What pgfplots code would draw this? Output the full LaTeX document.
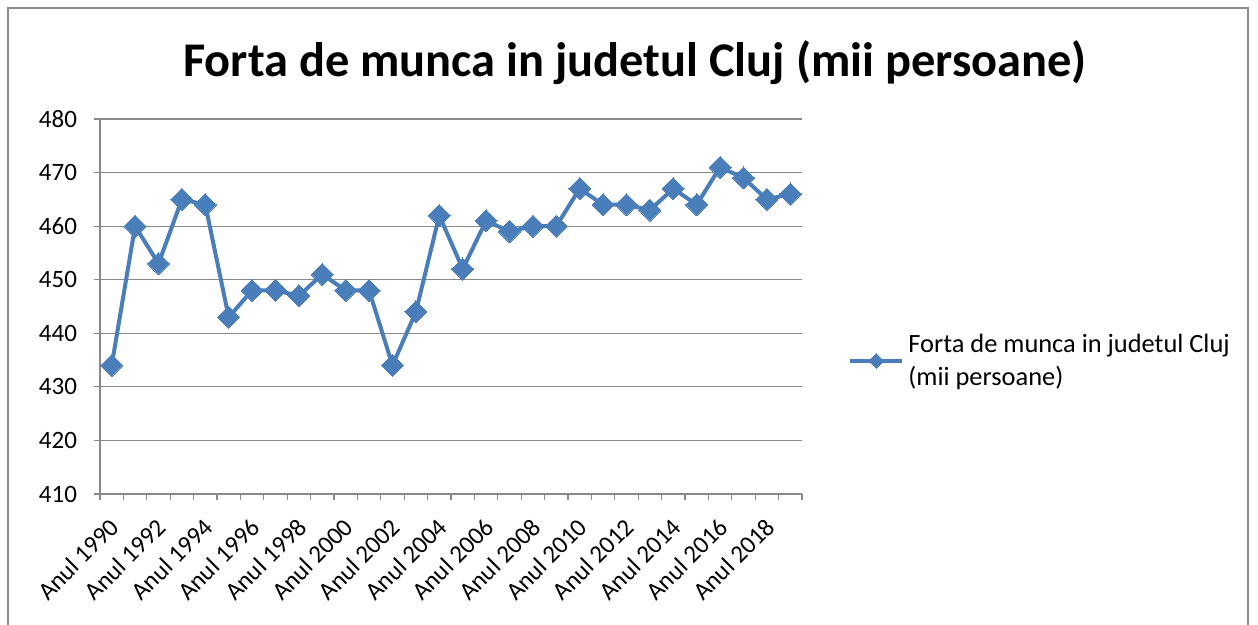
\documentclass[border=0pt]{standalone}
\usepackage{fontspec}
\setmainfont{Carlito}
\usepackage{pgfplots}
\pgfplotsset{compat=1.18}
\definecolor{Cline}{HTML}{4A7EBB}
\definecolor{Cgrid}{HTML}{898989}
\definecolor{Cframe}{HTML}{8C8C8C}

\begin{document}
\begin{tikzpicture}
\useasboundingbox (0,0) rectangle (629pt,312.5pt);
\draw[Cframe, line width=0.8pt] (4pt,-2pt) -- (4pt,308.5pt) -- (624pt,308.5pt) -- (624pt,-2pt);
\node[font=\bfseries\fontsize{24.2}{28}\selectfont] at (317.5pt,281pt) {Forta de munca in judetul Cluj (mii persoane)};
\begin{axis}[
  at={(50pt,65.5pt)}, anchor=south west,
  scale only axis,
  width=351pt, height=187.5pt,
  xmin=-0.5, xmax=29.5,
  ymin=410, ymax=480,
  ytick={410,420,...,480},
  xtick={0,2,...,28},
  xticklabels={Anul 1990,Anul 1992,Anul 1994,Anul 1996,Anul 1998,Anul 2000,Anul 2002,Anul 2004,Anul 2006,Anul 2008,Anul 2010,Anul 2012,Anul 2014,Anul 2016,Anul 2018},
  minor xtick={-0.5,0.5,...,29.5},
  major x tick style={draw=none},
  minor x tick style={Cgrid, line width=0.6pt},
  minor tick length=3pt,
  major tick length=3pt,
  tick align=outside,
  y tick style={Cgrid, line width=0.6pt},
  axis lines*=left,
  axis line style={Cgrid, line width=0.6pt},
  ymajorgrids=true,
  grid style={Cgrid, line width=0.6pt},
  tick label style={font=\fontsize{12.5}{15}\selectfont, /pgf/number format/assume math mode=true},
  xticklabel style={xshift=4pt, yshift=-9pt, rotate=45, anchor=east},
  yticklabel style={xshift=-5pt},
  legend style={at={(1.057,0.355)}, anchor=west, draw=none, fill=none,
    font=\fontsize{13.2}{16.5}\selectfont, cells={align=left}},
  legend cell align=left,
  legend image code/.code={
    \draw[#1, mark repeat=2, mark phase=2, mark size=2.6pt]
      plot coordinates {(0pt,0pt) (13pt,0pt) (26pt,0pt)};},
  clip=false,
]
\addplot[Cline, line width=2pt, mark=square*, mark size=3.9pt,
  mark options={rotate=45, fill=Cline, draw=Cline, line width=0pt}] coordinates {
  (0,434) (1,460) (2,453) (3,465) (4,464) (5,443) (6,448) (7,448) (8,447) (9,451)
  (10,448) (11,448) (12,434) (13,444) (14,462) (15,452) (16,461) (17,459) (18,460) (19,460)
  (20,467) (21,464) (22,464) (23,463) (24,467) (25,464) (26,471) (27,469) (28,465) (29,466)
};
\addlegendentry{Forta de munca in judetul Cluj\\(mii persoane)}
\end{axis}
\end{tikzpicture}
\end{document}
